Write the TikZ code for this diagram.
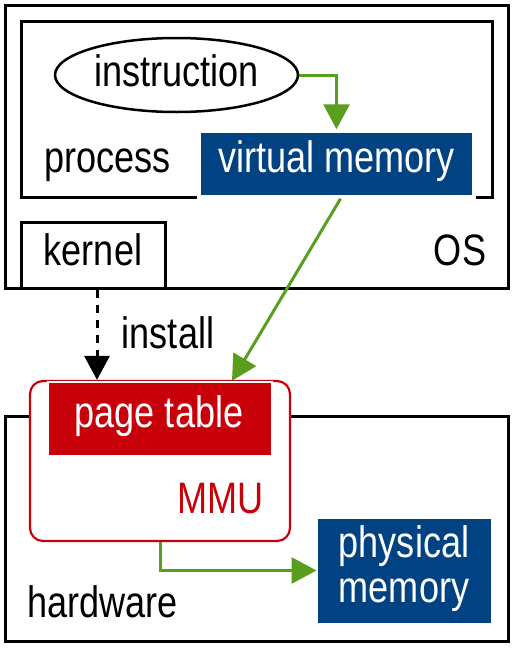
\documentclass[tikz,border=0pt]{standalone}
\usepackage{fontspec}
\setmainfont[FakeStretch=0.82]{Liberation Sans}
\usetikzlibrary{arrows.meta,shapes.geometric}
\definecolor{vmblue}{RGB}{0,66,130}
\definecolor{ptred}{RGB}{200,0,10}
\definecolor{flowgreen}{RGB}{90,158,30}
\newcommand{\diagfont}{\fontsize{44}{45}\selectfont}
\tikzset{
  frame/.style={draw, line width=3pt, inner sep=0pt},
  solidbox/.style={draw=white, inner sep=0pt},
  lbl/.style={anchor=base, inner sep=0pt, font=\diagfont},
  flow/.style={flowgreen, line width=3pt, -{Triangle[length=25pt,width=26pt]}},
  installarrow/.style={black, line width=3pt, dash pattern=on 8pt off 7pt, -{Triangle[length=24pt,width=25pt]}},
}

\begin{document}
\begin{tikzpicture}[x=1pt, y=-1pt]
    \useasboundingbox (0,0) rectangle (514,648);
    % OS part
    \node[frame, minimum width=503, minimum height=283] (os) at (256.5,146.5) {};
    \node[frame, minimum width=471, minimum height=176] (process) at (256.5,109) {};
    \node[draw, ellipse, line width=2.5pt, inner sep=0pt, minimum width=243, minimum height=74] (instr) at (176.5,75) {};
    \node[solidbox, fill=vmblue, line width=3.5pt, minimum width=275, minimum height=66] (vm) at (336.5,164) {};
    \node[frame, minimum width=144, minimum height=66] (kernel) at (93,255) {};
    % hardware part
    \node[frame, minimum width=503, minimum height=225] (hw) at (256.5,528.5) {};
    \node[draw=ptred, fill=white, line width=2.2pt, rounded corners=13pt, inner sep=0pt, minimum width=260, minimum height=160] (mmu) at (160,461) {};
    \node[solidbox, fill=ptred, line width=2.5pt, minimum width=224, minimum height=74] (pt) at (160,419) {};
    \node[solidbox, fill=vmblue, line width=1pt, minimum width=174, minimum height=105] (phys) at (404,570.5) {};
    % labels
    \node[lbl] (instrtxt) at (176.5,86) {instruction};
    \node[lbl] (processtxt) at (107.5,172) {process};
    \node[lbl, white] (vmtxt) at (336.5,172) {virtual memory};
    \node[lbl] (kerneltxt) at (93,265) {kernel};
    \node[lbl] (ostxt) at (460,265) {OS};
    \node[lbl] (installtxt) at (168,348) {install};
    \node[lbl, white] (pttxt) at (159,427) {page table};
    \node[lbl, ptred] (mmutxt) at (220.5,513) {MMU};
    \node[lbl, white] (phystxt) at (404,557) {physical};
    \node[lbl, white] (memtxt) at (404,602) {memory};
    \node[lbl] (hwtxt) at (102.5,617) {hardware};
    % arrows
    \draw[flow] (instr.east) -| (vm.north);
    \draw[flow] ([xshift=4pt]vm.south) -- ([xshift=72pt]pt.north);
    \draw[installarrow] ([xshift=4pt]kernel.south) -- ([xshift=4pt]kernel.south |- mmu.north);
    \draw[flow] (mmu.south) |- (phys.west);
\end{tikzpicture}
\end{document}
